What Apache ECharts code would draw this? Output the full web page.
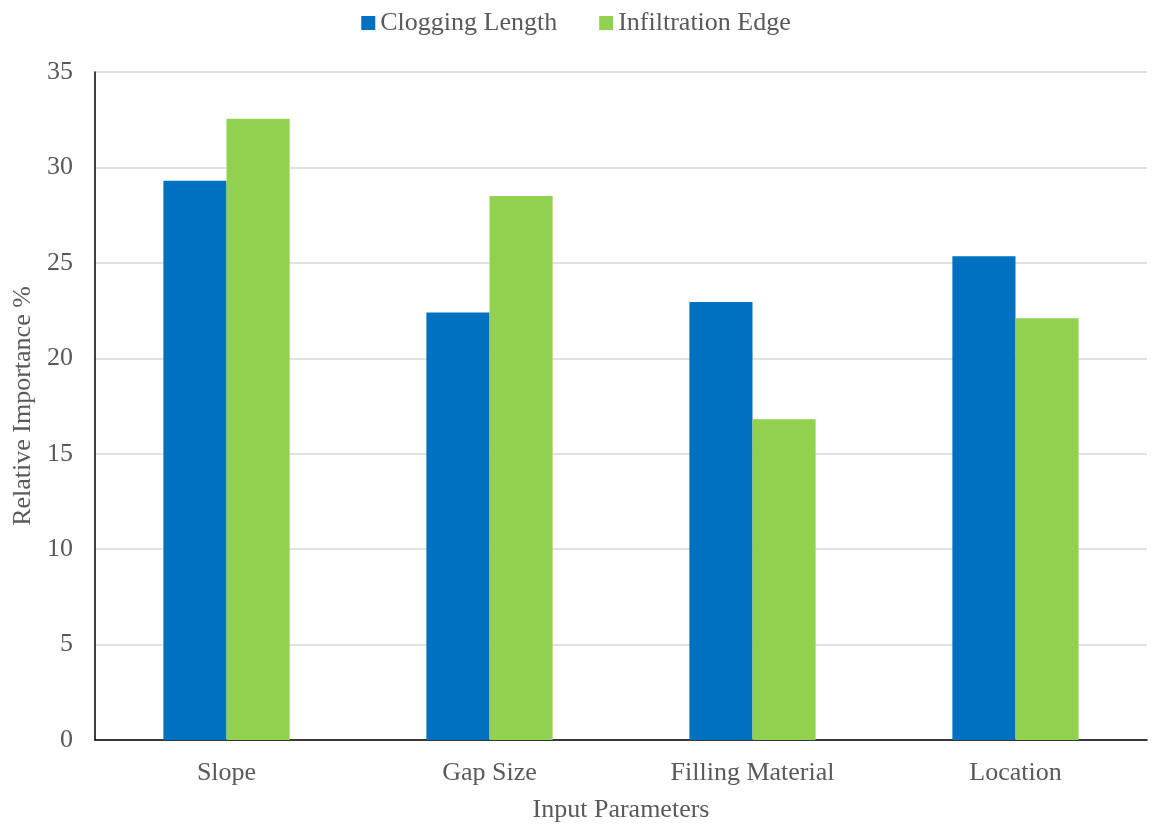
<!DOCTYPE html>
<html><head><meta charset="utf-8">
<script src="https://cdn.jsdelivr.net/npm/echarts@6/dist/echarts.min.js"></script>
<style>html,body{margin:0;padding:0;background:#fff}#c{width:1152px;height:829px}</style>
</head><body><div id="c"></div>
<script>
const categories = ["Slope", "Gap Size", "Filling Material", "Location"];
const cloggingLength = [29.3, 22.4, 22.95, 25.35];
const infiltrationEdge = [32.55, 28.5, 16.8, 22.1];
const seriesNames = ["Clogging Length", "Infiltration Edge"];
const font = "'Liberation Serif', 'Times New Roman', serif";
const textColor = "#595959";
const chart = echarts.init(document.getElementById('c'));
chart.setOption({
  animation: false,
  textStyle: { fontFamily: font },
  legend: {
    top: 5, left: 'center', itemWidth: 14, itemHeight: 14, itemGap: 42,
    icon: 'rect',
    textStyle: { fontFamily: font, fontSize: 26, color: textColor }
  },
  grid: { left: 95, right: 5, top: 72, bottom: 89, containLabel: false, outerBoundsMode: 'none' },
  xAxis: {
    type: 'category', data: categories,
    name: 'Input Parameters', nameLocation: 'middle', nameGap: 57,
    nameTextStyle: { fontFamily: font, fontSize: 26, color: textColor },
    axisLine: { lineStyle: { color: '#000', width: 1.5 } },
    axisTick: { show: false },
    axisLabel: { fontFamily: font, fontSize: 26, color: textColor, margin: 20 }
  },
  yAxis: {
    type: 'value', min: 0, max: 35, interval: 5,
    name: 'Relative Importance %', nameLocation: 'middle', nameGap: 58,
    nameTextStyle: { fontFamily: font, fontSize: 26, color: textColor },
    axisLine: { show: true, lineStyle: { color: '#000', width: 1.5 } },
    axisTick: { show: false },
    splitLine: { lineStyle: { color: '#d9d9d9', width: 1.5 } },
    axisLabel: { fontFamily: font, fontSize: 26, color: textColor, margin: 22 }
  },
  series: [
    { name: seriesNames[0], type: 'bar', data: cloggingLength, itemStyle: { color: '#0070c0' }, barGap: '0%', barCategoryGap: '52%' },
    { name: seriesNames[1], type: 'bar', data: infiltrationEdge, itemStyle: { color: '#92d050' }, barGap: '0%', barCategoryGap: '52%' }
  ]
});
</script></body></html>
